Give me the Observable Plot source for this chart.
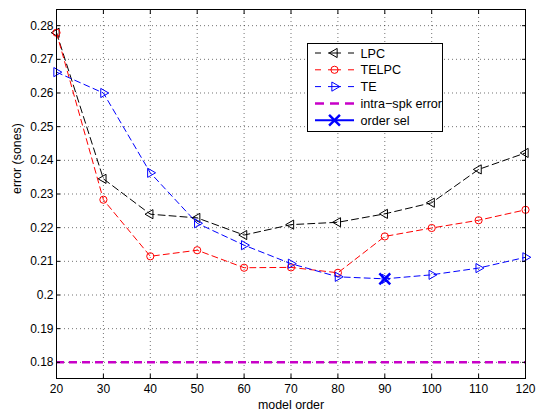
<!DOCTYPE html>
<html><head><meta charset="utf-8">
<script src="https://cdn.jsdelivr.net/npm/d3@7"></script>
<script src="https://cdn.jsdelivr.net/npm/@observablehq/plot@0.6"></script>
<style>
html,body{margin:0;padding:0;background:#fff;}
#wrap{position:relative;width:536px;height:410px;font-family:"Liberation Sans",Arial,Helvetica,sans-serif;}
#legend{position:absolute;left:307px;top:43px;}
</style></head><body><div id="wrap"></div>
<script>
// ---- data ----
const orders = [20, 30, 40, 50, 60, 70, 80, 90, 100, 110, 120];
const lpc    = [0.2779, 0.2345, 0.2240, 0.2229, 0.2178, 0.2209, 0.2216, 0.2241, 0.2274, 0.2373, 0.2422];
const telpc  = [0.2779, 0.2283, 0.2115, 0.2133, 0.2081, 0.2082, 0.2066, 0.2174, 0.2199, 0.2222, 0.2253];
const te     = [0.2662, 0.2600, 0.2363, 0.2213, 0.2148, 0.2093, 0.2054, 0.2048, 0.2060, 0.2080, 0.2112];
const intraSpkError = [0.18];
const orderSelOrder = [90];
const orderSelError = [0.2048];
const xTicks = [20, 30, 40, 50, 60, 70, 80, 90, 100, 110, 120];
const yTicks = [0.18, 0.19, 0.20, 0.21, 0.22, 0.23, 0.24, 0.25, 0.26, 0.27, 0.28];
const legendLabels = ["LPC", "TELPC", "TE", "intra\u2212spk error", "order sel"];

const rows = (ys) => orders.map((o, i) => ({order: o, error: ys[i]}));
const lpcRows = rows(lpc), telpcRows = rows(telpc), teRows = rows(te);
const selRows = orderSelOrder.map((o, i) => ({order: o, error: orderSelError[i]}));

const BLACK = "#000", RED = "#ff0000", BLUE = "#0000ff", MAG = "#c800c8";
const font = "Liberation Sans, Arial, Helvetica, sans-serif";

const chart = Plot.plot({
  width: 536, height: 410,
  marginLeft: 56, marginRight: 11, marginTop: 9, marginBottom: 32,
  style: {fontFamily: font, fontSize: "12px", color: "#000", background: "#fff", overflow: "visible"},
  x: {domain: [20, 120]},
  y: {domain: [0.1752, 0.2848]},
  marks: [
    Plot.gridX(xTicks, {stroke: "#000", strokeOpacity: 0.55, strokeDasharray: "1,3"}),
    Plot.gridY(yTicks, {stroke: "#000", strokeOpacity: 0.55, strokeDasharray: "1,3"}),
    // LPC
    Plot.line(lpcRows, {x: "order", y: "error", stroke: BLACK, strokeWidth: 1, strokeDasharray: "7,4"}),
    Plot.dot(lpcRows, {x: "order", y: "error", symbol: "triangle", rotate: -90, r: 3.4, stroke: BLACK, strokeWidth: 1, fill: "none"}),
    // TELPC
    Plot.line(telpcRows, {x: "order", y: "error", stroke: RED, strokeWidth: 1, strokeDasharray: "6,4"}),
    Plot.dot(telpcRows, {x: "order", y: "error", symbol: "circle", r: 3.6, stroke: RED, strokeWidth: 1, fill: "none"}),
    // TE
    Plot.line(teRows, {x: "order", y: "error", stroke: BLUE, strokeWidth: 1, strokeDasharray: "6,4"}),
    Plot.dot(teRows, {x: "order", y: "error", symbol: "triangle", rotate: 90, r: 3.4, stroke: BLUE, strokeWidth: 1, fill: "none"}),
    // intra-speaker error
    Plot.ruleY(intraSpkError, {stroke: MAG, strokeWidth: 2.5, strokeDasharray: "8,5"}),
    // order selection
    Plot.dot(selRows, {x: "order", y: "error", symbol: "times", r: 5, stroke: BLUE, strokeWidth: 2.5}),
    Plot.frame({stroke: "#000"}),
    Plot.axisX(xTicks, {anchor: "bottom", tickSize: -4, tickPadding: 10, label: null, fontSize: 12}),
    Plot.axisX(xTicks, {anchor: "top", tickSize: -4, tickFormat: () => "", label: null}),
    Plot.axisY(yTicks, {anchor: "left", tickSize: -4, tickPadding: 7, label: null, fontSize: 12,
      tickFormat: d => String(+d.toFixed(2))}),
    Plot.axisY(yTicks, {anchor: "right", tickSize: -4, tickFormat: () => "", label: null}),
    Plot.text(["model order"], {frameAnchor: "bottom", dy: 30, lineAnchor: "bottom", fontSize: 12.4}),
    Plot.text(["error (sones)"], {frameAnchor: "left", dx: -44, rotate: -90, lineAnchor: "top", fontSize: 12.4})
  ]
});
document.getElementById("wrap").appendChild(chart);

// ---- legend (inside the axes box, as in the reference) ----
const LW = 136, LH = 89;
const lg = d3.select("#wrap").append("svg").attr("id", "legend")
  .attr("width", LW).attr("height", LH).style("overflow", "hidden");
lg.append("rect").attr("x", 0.5).attr("y", 0.5).attr("width", LW - 1).attr("height", LH - 1)
  .attr("fill", "#fff").attr("stroke", "none");
const styles = [
  {color: BLACK, dash: "6,7,13,7,6", width: 1, sym: d3.symbolTriangle, rot: -90, r: 3.4},
  {color: RED,   dash: "6,7,13,7,6", width: 1, sym: d3.symbolCircle, rot: 0, r: 3.6},
  {color: BLUE,  dash: "6,7,13,7,6", width: 1, sym: d3.symbolTriangle, rot: 90, r: 3.4},
  {color: MAG,   dash: "9,6", width: 2.5, sym: null},
  {color: BLUE,  dash: null, width: 2, sym: d3.symbolTimes, rot: 0, r: 5, sw: 2.5}
];
const rowY = i => 10 + i * 16.8;
legendLabels.forEach((lab, i) => {
  const s = styles[i], y = rowY(i);
  lg.append("line").attr("x1", 8).attr("x2", 47).attr("y1", y).attr("y2", y)
    .attr("stroke", s.color).attr("stroke-width", s.width)
    .attr("stroke-dasharray", s.dash);
  if (s.sym) {
    lg.append("path").attr("d", d3.symbol(s.sym, Math.PI * s.r * s.r)())
      .attr("transform", `translate(27.5,${y}) rotate(${s.rot})`)
      .attr("fill", "none").attr("stroke", s.color).attr("stroke-width", s.sw || 1);
  }
  lg.append("text").attr("x", 53.5).attr("y", y).attr("dy", "0.36em")
    .attr("font-family", font).attr("font-size", 12.6).attr("fill", "#000").text(lab);
});
lg.append("rect").attr("x", 0.5).attr("y", 0.5).attr("width", LW - 1).attr("height", LH - 1)
  .attr("fill", "none").attr("stroke", "#000");
</script>
</body></html>
